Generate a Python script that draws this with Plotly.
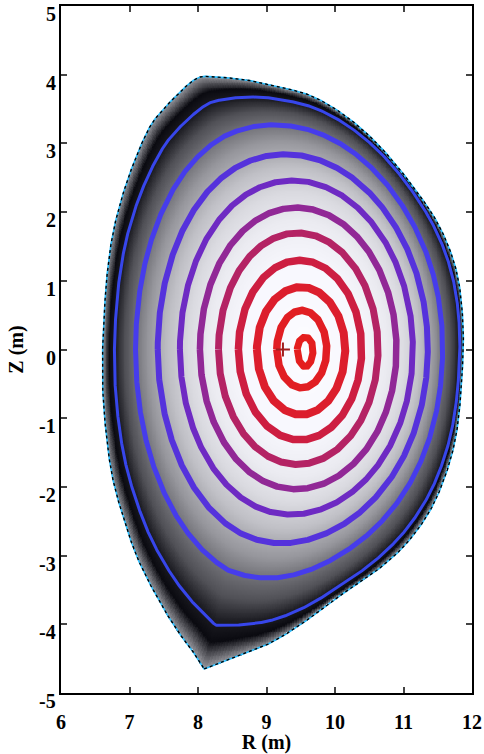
import numpy as np
import plotly.graph_objects as go

# ---------------- data ----------------
# plasma boundary (last closed flux surface), R and Z in metres; starts at the X-point
bnd_R = [8.09, 8.51, 9.00, 9.49, 9.90, 10.15, 10.58, 11.02, 11.39, 11.64,
         11.78, 11.85, 11.87, 11.78, 11.53, 11.14, 10.66, 10.18, 9.68, 9.20,
         8.72, 8.22, 7.99, 7.74, 7.40, 7.25, 7.08, 6.91, 6.76, 6.67,
         6.62, 6.61, 6.61, 6.67, 6.76, 6.91, 7.11, 7.40, 7.69, 7.88]
bnd_Z = [-4.65, -4.49, -4.30, -4.01, -3.70, -3.53, -3.24, -2.85, -2.34, -1.75,
         -1.17, -0.44, 0.33, 1.11, 1.78, 2.37, 2.95, 3.38, 3.68, 3.82,
         3.92, 3.97, 3.95, 3.75, 3.39, 3.15, 2.76, 2.28, 1.70, 1.06,
         0.33, 0.14, -0.59, -1.32, -1.90, -2.44, -3.02, -3.60, -4.08, -4.33]

# flux-surface contours (inner -> outer): extents
ring_Rin = [9.45, 9.15, 8.86, 8.59, 8.30, 8.03, 7.74, 7.42, 7.10, 6.79]
ring_Rout = [9.68, 9.88, 10.15, 10.39, 10.63, 10.90, 11.14, 11.36, 11.58, 11.83]
ring_Ztop = [0.18, 0.57, 0.91, 1.30, 1.70, 2.07, 2.47, 2.86, 3.30, 3.72]
ring_Zbot = [-0.25, -0.56, -0.95, -1.32, -1.68, -2.05, -2.44, -2.89, -3.45, -4.18]
ring_colors = ["rgb(228,30,30)", "rgb(225,30,35)", "rgb(220,30,45)", "rgb(205,30,65)",
               "rgb(180,35,100)", "rgb(145,40,150)", "rgb(110,42,195)", "rgb(85,50,220)",
               "rgb(70,60,235)", "rgb(55,70,235)"]
ring_widths = [7, 7.5, 8, 7.5, 7, 6.5, 6, 6, 5, 3]

axis_R, axis_Z = 9.53, 0.0      # magnetic axis
cross_R, cross_Z = 9.24, 0.0    # '+' marker

# grey shading vs normalised flux radius
shade_rho = [0.0, 0.35, 0.52, 0.62, 0.71, 0.80, 0.90, 0.94, 0.97, 1.0]
shade_gray = [252, 248, 235, 218, 192, 150, 80, 30, 10, 150]

x_ticks = [6, 7, 8, 9, 10, 11, 12]
y_ticks = [-5, -4, -3, -2, -1, 0, 1, 2, 3, 4, 5]

# ---------------- geometry helpers ----------------
P = np.column_stack([bnd_R + [bnd_R[0]], bnd_Z + [bnd_Z[0]]])  # open chain X-point -> X-point
ext = np.vstack([2 * P[0] - P[1], P, 2 * P[-1] - P[-2]])
segs = []
for i in range(1, len(ext) - 2):
    p0, p1, p2, p3 = ext[i - 1], ext[i], ext[i + 1], ext[i + 2]
    t = np.linspace(0, 1, 30, endpoint=False)[:, None]
    c = 0.5 * ((2 * p1) + (-p0 + p2) * t + (2 * p0 - 5 * p1 + 4 * p2 - p3) * t ** 2
               + (-p0 + 3 * p1 - 3 * p2 + p3) * t ** 3)
    segs.append(c)
S = np.vstack(segs + [P[-1:]])
dR, dZ = S[:, 0], S[:, 1]

Rin_b, Rout_b = dR.min(), dR.max()
Ztop_b, Zbot_b = dZ.max(), dZ.min()
Rc_b, a_b = (Rin_b + Rout_b) / 2, (Rout_b - Rin_b) / 2
u_b = (dR - Rc_b) / a_b
v_b = np.where(dZ > 0, dZ / Ztop_b, dZ / (-Zbot_b))
th_b = np.arctan2(v_b, u_b)
r_b = np.hypot(u_b, v_b)
o = np.argsort(th_b)
th_b, r_b = th_b[o], r_b[o]

sb = 10.55
lev_idx = np.array([0.0] + list(range(1, 11)) + [sb])
Rin_tab = np.array([axis_R] + ring_Rin + [Rin_b])
Rout_tab = np.array([axis_R] + ring_Rout + [Rout_b])
Zt_tab = np.array([0.0] + ring_Ztop + [Ztop_b])
Zb_tab = np.array([0.0] + ring_Zbot + [Zbot_b])

NTH = 2880
TH = np.linspace(-np.pi, np.pi, NTH, endpoint=False)
RB_TH = np.interp(TH, th_b, r_b, period=2 * np.pi)
# smoothed version of the boundary shape (circular gaussian) for inner surfaces
k_ang = np.fft.fftfreq(NTH, d=1.0 / NTH)
sig = 0.30
RB_SM = np.real(np.fft.ifft(np.fft.fft(RB_TH) * np.exp(-0.5 * (k_ang * sig) ** 2)))
TH = np.append(TH, TH[0] + 2 * np.pi)
RB_TH = np.append(RB_TH, RB_TH[0])
RB_SM = np.append(RB_SM, RB_SM[0])


def level_curve(s):
    x = s / sb
    w = x ** 4
    q = x ** 10
    rin = np.interp(s, lev_idx, Rin_tab)
    rout = np.interp(s, lev_idx, Rout_tab)
    zt = np.interp(s, lev_idx, Zt_tab)
    zb = np.interp(s, lev_idx, Zb_tab)
    r = w * (q * RB_TH + (1 - q) * RB_SM) + (1 - w)
    u = r * np.cos(TH)
    v = r * np.sin(TH)
    R = (rin + rout) / 2 + (rout - rin) / 2 * u
    Z = np.where(v > 0, v * zt, v * (-zb))
    return R, Z


# ---------------- shading field ----------------
nphi = 720
phi_grid = np.linspace(-np.pi, np.pi, nphi, endpoint=False)
s_levels = np.linspace(0, sb, 260)
D = np.zeros((len(s_levels), nphi))
for k, s in enumerate(s_levels):
    if s == 0:
        continue
    R, Z = level_curve(s)
    ph = np.arctan2(Z - axis_Z, R - axis_R)
    d = np.hypot(R - axis_R, Z - axis_Z)
    oo = np.argsort(ph)
    D[k] = np.interp(phi_grid, ph[oo], d[oo], period=2 * np.pi)
D = np.maximum.accumulate(D, axis=0)

gR = np.arange(6.5, 12.0, 0.012)
gZ = np.arange(-4.75, 4.05, 0.012)
RR, ZZ = np.meshgrid(gR, gZ)
php = np.arctan2(ZZ - axis_Z, RR - axis_R).ravel()
dp = np.hypot(RR - axis_R, ZZ - axis_Z).ravel()
jj = np.round((php + np.pi) / (2 * np.pi) * nphi).astype(int) % nphi
rho = np.full(dp.shape, np.nan)
for j in range(nphi):
    m = jj == j
    if m.any():
        rho[m] = np.interp(dp[m], D[:, j], s_levels, right=np.nan) / sb
rho = rho.reshape(RR.shape)

colorscale = [[p, "rgb(%d,%d,%d)" % (g, g, min(255, g + 6))] for p, g in zip(shade_rho, shade_gray)]

fig = go.Figure()
fig.add_trace(go.Heatmap(x=gR, y=gZ, z=rho, zmin=0, zmax=1, colorscale=colorscale,
                         showscale=False, hoverinfo="skip"))

for i in range(10):
    R, Z = level_curve(float(i + 1))
    fig.add_trace(go.Scatter(x=R, y=Z, mode="lines",
                             line=dict(color=ring_colors[i], width=ring_widths[i]),
                             showlegend=False, hoverinfo="skip"))

# boundary: cyan line with black dashes
fig.add_trace(go.Scatter(x=dR, y=dZ, mode="lines",
                         line=dict(color="rgb(40,190,255)", width=1.6),
                         showlegend=False, hoverinfo="skip"))
fig.add_trace(go.Scatter(x=dR, y=dZ, mode="lines",
                         line=dict(color="black", width=1.4, dash="3px,3px"),
                         showlegend=False, hoverinfo="skip"))

fig.add_trace(go.Scatter(x=[cross_R], y=[cross_Z], mode="markers",
                         marker=dict(symbol="cross-thin", size=10, color="rgb(160,30,30)",
                                     line=dict(color="rgb(160,30,30)", width=2)),
                         showlegend=False, hoverinfo="skip"))

font_b = dict(family="Liberation Serif, Times New Roman, serif", size=20,
              color="black", weight="bold")

# y tick labels sit slightly below their ticks in the reference -> annotations
y_annots = [dict(xref="paper", yref="y", x=0, y=v, text=str(v), showarrow=False,
                 xanchor="right", yanchor="middle", xshift=-3, yshift=-8, font=font_b)
            for v in y_ticks]

fig.update_layout(
    width=484, height=754,
    margin=dict(l=61, r=12, t=6, b=61, autoexpand=False),
    paper_bgcolor="white", plot_bgcolor="white",
    annotations=y_annots,
    xaxis=dict(range=[6, 12], tickvals=x_ticks, ticktext=[str(v) for v in x_ticks],
               ticks="inside", ticklen=6, automargin=False,
               tickwidth=1.5, mirror="ticks", showline=True, linecolor="black",
               linewidth=2, showgrid=False, zeroline=False, tickfont=font_b,
               ticklabelstandoff=10, ticklabeloverflow="allow",
               title=dict(text="R (m)", font=font_b, standoff=0)),
    yaxis=dict(range=[-5, 5], tickvals=y_ticks, showticklabels=False,
               ticks="inside", ticklen=6, automargin=False,
               tickwidth=1.5, mirror="ticks", showline=True, linecolor="black",
               linewidth=2, showgrid=False, zeroline=False,
               title=dict(text="Z (m)", font=font_b, standoff=30)),
)

fig.write_html("out.html")
